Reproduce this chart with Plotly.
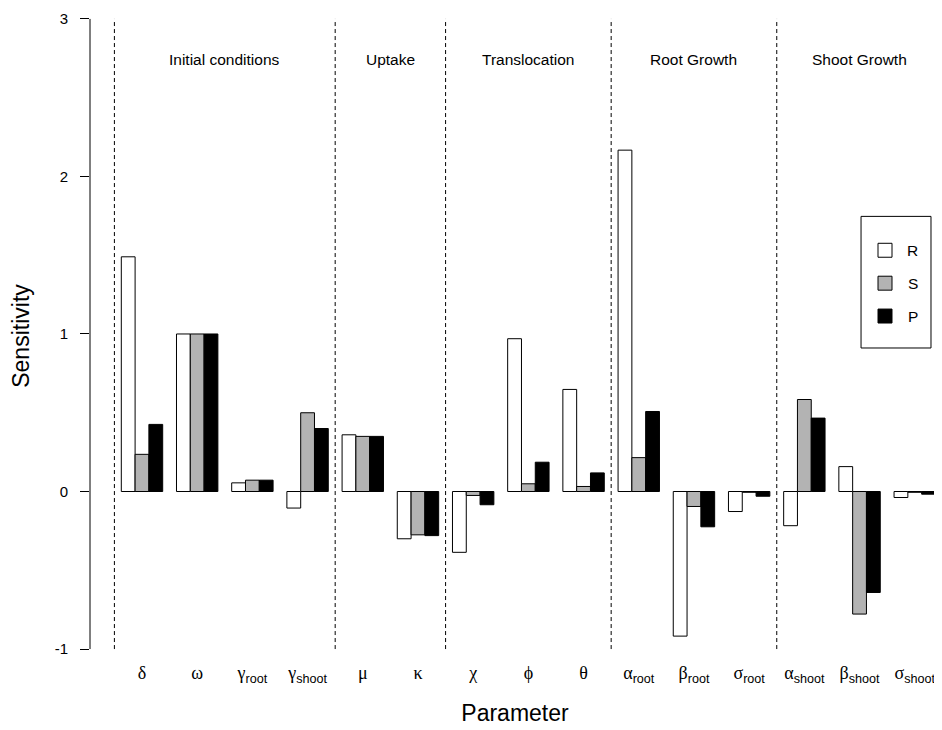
import plotly.graph_objects as go

# ---- data ----
params = ["δ", "ω", "γ", "γ", "μ", "κ", "χ", "ϕ", "θ", "α", "β", "σ", "α", "β", "σ"]
subs = ["", "", "root", "shoot", "", "", "", "", "", "root", "root", "root", "shoot", "shoot", "shoot"]
R = [1.49, 1.00, 0.055, -0.105, 0.36, -0.30, -0.386, 0.97, 0.648, 2.167, -0.918, -0.127, -0.217, 0.158, -0.038]
S = [0.236, 1.00, 0.072, 0.50, 0.35, -0.275, -0.025, 0.049, 0.032, 0.215, -0.095, -0.005, 0.584, -0.778, -0.005]
P = [0.426, 1.00, 0.072, 0.40, 0.35, -0.28, -0.084, 0.186, 0.118, 0.508, -0.224, -0.03, 0.466, -0.641, -0.017]
series_names = ["R", "S", "P"]
series_colors = ["#FFFFFF", "#B3B3B3", "#000000"]
sections = ["Initial conditions", "Uptake", "Translocation", "Root Growth", "Shoot Growth"]
section_sizes = [4, 2, 3, 3, 3]  # number of parameters in each section
yticks = [-1, 0, 1, 2, 3]

# ---- layout geometry (R barplot style: beside, space = c(0, 1)) ----
n_series = 3
gstep = n_series + 1
group_left = [1 + gstep * g for g in range(len(params))]
group_centers = [gl + n_series / 2 for gl in group_left]

fig = go.Figure()
for j, (name, vals, col) in enumerate(zip(series_names, [R, S, P], series_colors)):
    fig.add_trace(go.Bar(
        x=[gl + j + 0.5 for gl in group_left],
        y=vals,
        width=1,
        name=name,
        showlegend=False,
        marker=dict(color=col, line=dict(color="black", width=1)),
    ))

ticktext = []
for p, s in zip(params, subs):
    t = f'<span style="font-family:Liberation Serif">{p}</span>'
    if s:
        t += f'<sub>{s}</sub>'
    ticktext.append(t)

# section separators and labels
shapes = []
annotations = []
start = 0
bounds = []
for sz in section_sizes:
    left = group_left[start] - 0.5
    right = group_left[start + sz - 1] + n_series + 0.5
    bounds.append((left, right))
    start += sz
for (left, right), name in zip(bounds, sections):
    shapes.append(dict(type="line", xref="x", yref="y", x0=left, x1=left, y0=-1, y1=3,
                       line=dict(color="black", width=1, dash="4px,3px")))
    annotations.append(dict(x=(left + right) / 2, y=2.74, xref="x", yref="y", text=name,
                            showarrow=False, font=dict(size=15.5, color="black")))

# y axis line from -1 to 3 only
shapes.append(dict(type="line", xref="paper", yref="y", x0=0, x1=0, y0=yticks[0], y1=yticks[-1],
                   line=dict(color="black", width=1)))

# legend box (R style)
lx0, lx1, ly0, ly1 = 0.9071, 0.9894, 0.4815, 0.6846
shapes.append(dict(type="rect", xref="paper", yref="paper", x0=lx0, x1=lx1, y0=ly0, y1=ly1,
                   line=dict(color="black", width=1), fillcolor="white", layer="above"))
item_y = [0.6323, 0.5815, 0.5308]
sw = 14 / 850 / 2
sh = 14 / 650 / 2
for name, col, yy in zip(series_names, series_colors, item_y):
    shapes.append(dict(type="rect", xref="paper", yref="paper", x0=0.9353 - sw, x1=0.9353 + sw,
                       y0=yy - sh, y1=yy + sh, line=dict(color="black", width=1),
                       fillcolor=col, layer="above"))
    annotations.append(dict(x=0.9682, y=yy, xref="paper", yref="paper", text=name,
                            showarrow=False, font=dict(size=15.5, color="black"),
                            xanchor="center", yanchor="middle"))

fig.update_layout(
    width=934, height=722,
    margin=dict(l=82, r=2, t=2, b=70),
    paper_bgcolor="white", plot_bgcolor="white",
    font=dict(family="Liberation Sans, Arial, sans-serif", color="black"),
    barmode="overlay",
    showlegend=False,
    shapes=shapes,
    annotations=annotations,
    xaxis=dict(range=[-1.268, 60.33], tickvals=group_centers, ticktext=ticktext,
               showgrid=False, zeroline=False, showline=False, ticks="",
               tickfont=dict(size=18, family="Liberation Sans"),
               title=dict(text="Parameter", font=dict(size=23), standoff=20)),
    yaxis=dict(range=[-1.0696, 3.044], tickvals=yticks, ticktext=[str(v) for v in yticks],
               showgrid=False, zeroline=False, showline=False, ticks="outside", ticklen=9,
               tickcolor="black", tickfont=dict(size=15), ticklabelstandoff=9,
               title=dict(text="Sensitivity", font=dict(size=23), standoff=28)),
)

fig.write_html("out.html")
